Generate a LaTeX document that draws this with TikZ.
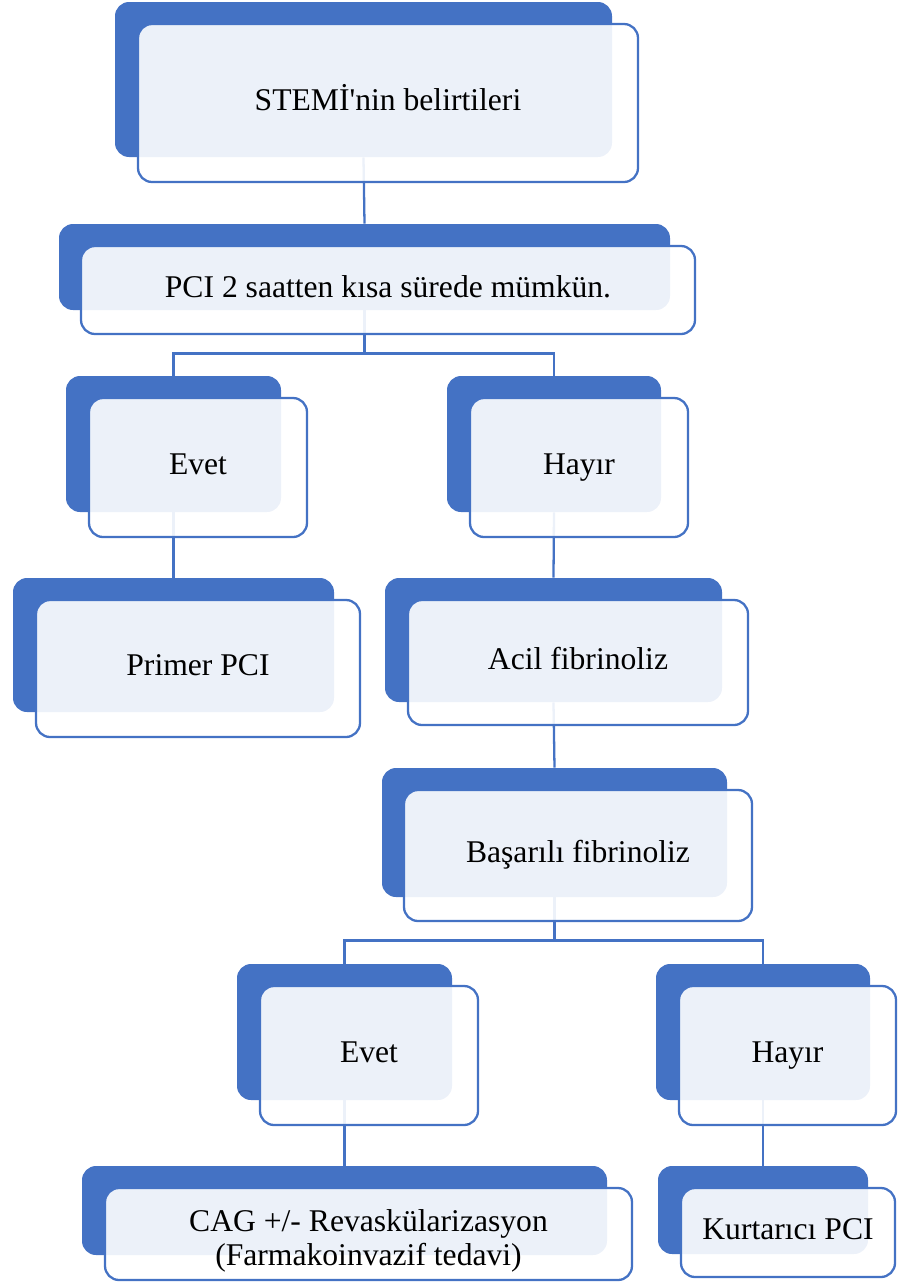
\documentclass[tikz,border=0pt]{standalone}
\usepackage{fontspec}
\setmainfont{Liberation Serif}[Ligatures=TeXOff]
\usetikzlibrary{fit}
\definecolor{smblue}{HTML}{4472C4}
\newcommand{\px}{0.02cm}
\tikzset{
  back/.style={fill=smblue, rounded corners=8pt, inner sep=0pt},
  front/.style={draw=smblue, line width=1.3pt, fill=white, fill opacity=0.9,
    text opacity=1, rounded corners=8pt, inner sep=0pt, align=center,
    font=\fontsize{18}{19.5}\selectfont},
  oneline/.style={text height=1.05em, text depth=0.2em},
  link/.style={draw=smblue, line width=1.3pt}
}
\begin{document}
\begin{tikzpicture}[x=0.02cm,y=-0.02cm]
	\useasboundingbox (0,0) rectangle (897,1282);
	
	% back boxes
	\node[back, fit={(115,2) (612,157)}] (b1) {};
	\node[back, fit={(59,224) (670,310)}] (b2) {};
	\node[back, fit={(66,376) (281,512)}] (b3) {};
	\node[back, fit={(447,376) (661,512)}] (b4) {};
	\node[back, fit={(13,578) (334,712)}] (b5) {};
	\node[back, fit={(385,578) (722,702)}] (b6) {};
	\node[back, fit={(382,768) (727,897)}] (b7) {};
	\node[back, fit={(237,964) (452,1100)}] (b8) {};
	\node[back, fit={(656,964) (870,1100)}] (b9) {};
	\node[back, fit={(82,1166) (607,1255)}] (b10) {};
	\node[back, fit={(658,1166) (868,1254)}] (b11) {};
	
	% connectors
	\draw[link] (b1.south) -- (b2.north);
	\draw[link] (b2.south) -- ++(0,43) coordinate (j1);
	\draw[link] (j1) -| (b3.north);
	\draw[link] (j1) -| (b4.north);
	\draw[link] (b3.south) -- (b5.north);
	\draw[link] (b4.south) -- (b6.north);
	\draw[link] (b6.south) -- (b7.north);
	\draw[link] (b7.south) -- ++(0,43) coordinate (j2);
	\draw[link] (j2) -| (b8.north);
	\draw[link] (j2) -| (b9.north);
	\draw[link] (b8.south) -- (b10.north);
	\draw[link] (b9.south) -- (b11.north);
	
	% front boxes
	\node[front, oneline, minimum width=500*\px, minimum height=158*\px] (f1) at (388,103) {STEMİ'nin belirtileri};
	\node[front, oneline, minimum width=614*\px, minimum height=88*\px] (f2) at (388,290) {PCI 2 saatten kısa sürede mümkün.};
	\node[front, oneline, minimum width=218*\px, minimum height=139*\px] (f3) at (198,467.5) {Evet};
	\node[front, oneline, minimum width=218*\px, minimum height=139*\px] (f4) at (579,467.5) {Hayır};
	\node[front, oneline, minimum width=324*\px, minimum height=137*\px] (f5) at (198,668.5) {Primer PCI};
	\node[front, oneline, minimum width=340*\px, minimum height=125*\px] (f6) at (578,662.5) {Acil fibrinoliz};
	\node[front, oneline, minimum width=348*\px, minimum height=131*\px] (f7) at (578,855.5) {Başarılı fibrinoliz};
	\node[front, oneline, minimum width=218*\px, minimum height=139*\px] (f8) at (369,1055.5) {Evet};
	\node[front, oneline, minimum width=217*\px, minimum height=139*\px] (f9) at (787.5,1055.5) {Hayır};
	\node[front, minimum width=527*\px, minimum height=92*\px] (f10) at (368.5,1234) {};
	\node[align=center, font=\fontsize{18}{19.5}\selectfont, yshift=-4pt] (t10) at (f10.center) {CAG +/- Revaskülarizasyon\\(Farmakoinvazif tedavi)};
	\node[front, oneline, minimum width=214*\px, minimum height=89*\px] (f11) at (788,1232.5) {Kurtarıcı PCI};
\end{tikzpicture}
\end{document}
